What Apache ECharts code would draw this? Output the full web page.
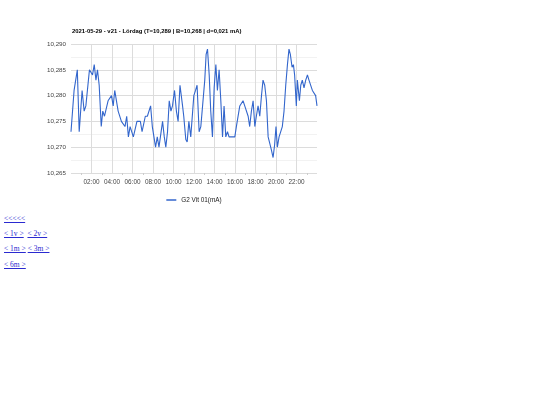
<!DOCTYPE html>
<html>
<head>
<meta charset="utf-8">
<script src="https://cdn.jsdelivr.net/npm/echarts@6/dist/echarts.min.js"></script>
<style>
  html, body { margin: 0; padding: 0; background: #fff; }
  #chart { position: absolute; left: 0; top: 0; width: 388px; height: 212px; }
  .links { position: absolute; left: 4px; font-family: "Liberation Serif", "Times New Roman", serif; font-size: 7.5px; }
  .links a { color: #2a2ad0; text-decoration: underline; }
</style>
</head>
<body>
<div id="chart"></div>
<div class="links" style="top:214px"><a href="#">&lt;&lt;&lt;&lt;&lt;</a></div>
<div class="links" style="top:229px"><a href="#">&lt; 1v &gt;</a>&nbsp; <a href="#">&lt; 2v &gt;</a></div>
<div class="links" style="top:244px"><a href="#">&lt; 1m &gt;</a> <a href="#">&lt; 3m &gt;</a></div>
<div class="links" style="top:260px"><a href="#">&lt; 6m &gt;</a></div>
<script>
const titleText = "2021-05-29 - v21 - Lördag (T=10,289 | B=10,268 | d=0,021 mA)";
const seriesName = "G2 Vit 01(mA)";
const xTickLabels = ["00:00","02:00","04:00","06:00","08:00","10:00","12:00","14:00","16:00","18:00","20:00","22:00","24:00"];
// minutes after midnight
const minutes = [0,18,37,48,65,77,87,108,118,126,136,146,155,165,177,186,196,217,237,247,256,276,283,295,316,326,336,346,355,365,386,406,416,435,447,466,476,485,495,505,515,536,546,555,565,575,585,594,606,617,627,638,
653,660,672,680,690,701,719,729,738,750,760,770,783,791,799,809,818,828,838,848,857,867,877,887,896,906,916,925,939,959,968,978,988,998,1007,1017,1027,1037,1046,1056,1066,1076,1085,1095,1105,1115,1124,1134,1144,1154,1163,1173,1183,1192,1200,1208,1218,1228,1237,1247,1257,1267,1276,1284,1294,1302,1309,1319,1325,1337,1345,1354,1364,1374,1384,1393,1403,1413,1422,1432,1440];
const values = [10.273,10.281,10.285,10.273,10.281,10.277,10.278,10.285,10.285,10.284,10.286,10.283,10.285,10.282,10.274,10.277,10.276,10.279,10.280,10.278,10.281,10.277,10.277,10.275,10.274,10.276,10.272,10.274,10.274,10.272,10.275,10.275,10.273,10.276,10.276,10.278,10.274,10.274,10.270,10.272,10.270,10.275,10.272,10.270,10.273,10.279,10.277,10.278,10.281,10.277,10.275,10.282,
10.278,10.276,10.2715,10.271,10.275,10.272,10.280,10.281,10.282,10.273,10.274,10.274,10.283,10.288,10.289,10.284,10.277,10.272,10.2815,10.286,10.281,10.285,10.279,10.272,10.278,10.272,10.273,10.272,10.272,10.272,10.274,10.274,10.278,10.278,10.279,10.278,10.278,10.276,10.274,10.277,10.279,10.274,10.276,10.278,10.276,10.280,10.283,10.282,10.279,10.272,10.272,10.2695,10.268,10.2705,10.274,10.270,10.272,10.272,10.274,10.277,10.282,10.286,10.289,10.288,10.2855,10.286,10.284,10.278,10.283,10.279,10.282,10.283,10.2815,10.283,10.284,10.283,10.283,10.281,10.281,10.280,10.278];

const data = minutes.map((m, i) => [m, values[i]]);
const chart = echarts.init(document.getElementById('chart'), null, { renderer: 'canvas' });
const vGridColors = xTickLabels.map((t, i) => (i === 0 || i === xTickLabels.length - 1) ? 'rgba(0,0,0,0)' : '#dcdcdc');
const font = '"Liberation Sans", Arial, sans-serif';
chart.setOption({
  animation: false,
  textStyle: { fontFamily: font },
  title: {
    text: titleText, left: 72, top: 28, padding: 0,
    textStyle: { fontSize: 5.9, fontWeight: 'bold', color: '#000', fontFamily: font }
  },
  legend: {
    data: [seriesName], bottom: 4, left: 'center',
    icon: 'rect', itemWidth: 10, itemHeight: 1.5, itemGap: 4,
    textStyle: { fontSize: 6.4, color: '#222', fontFamily: font }
  },
  grid: { left: 71, right: 71, top: 44, bottom: 39 },
  xAxis: {
    type: 'value', min: 0, max: 1440, interval: 120,
    axisLine: { show: false },
    axisTick: { show: false },
    minorTick: { show: true, splitNumber: 2, length: 2, lineStyle: { color: '#cccccc' } },
    axisLabel: {
      fontSize: 6.4, color: '#444', margin: 6, fontFamily: font,
      showMinLabel: false, showMaxLabel: false,
      formatter: v => xTickLabels[Math.round(v / 120)] || ''
    },
    splitLine: { show: true, lineStyle: { color: vGridColors, width: 1 } }
  },
  yAxis: {
    type: 'value', min: 10.265, max: 10.290, interval: 0.005,
    axisLine: { show: false }, axisTick: { show: false },
    axisLabel: {
      fontSize: 6.2, color: '#444', margin: 5, fontFamily: font,
      formatter: v => v.toFixed(3).replace('.', ',')
    },
    splitLine: { show: true, lineStyle: { color: '#dcdcdc', width: 1 } },
    minorTick: { show: false, splitNumber: 2 },
    minorSplitLine: { show: true, lineStyle: { color: '#f2f2f2', width: 1 } }
  },
  series: [{
    name: seriesName, type: 'line', data: data,
    showSymbol: false, symbol: 'none',
    lineStyle: { color: '#3366cc', width: 1.1 },
    itemStyle: { color: '#3366cc' }
  }]
});
</script>
</body>
</html>
